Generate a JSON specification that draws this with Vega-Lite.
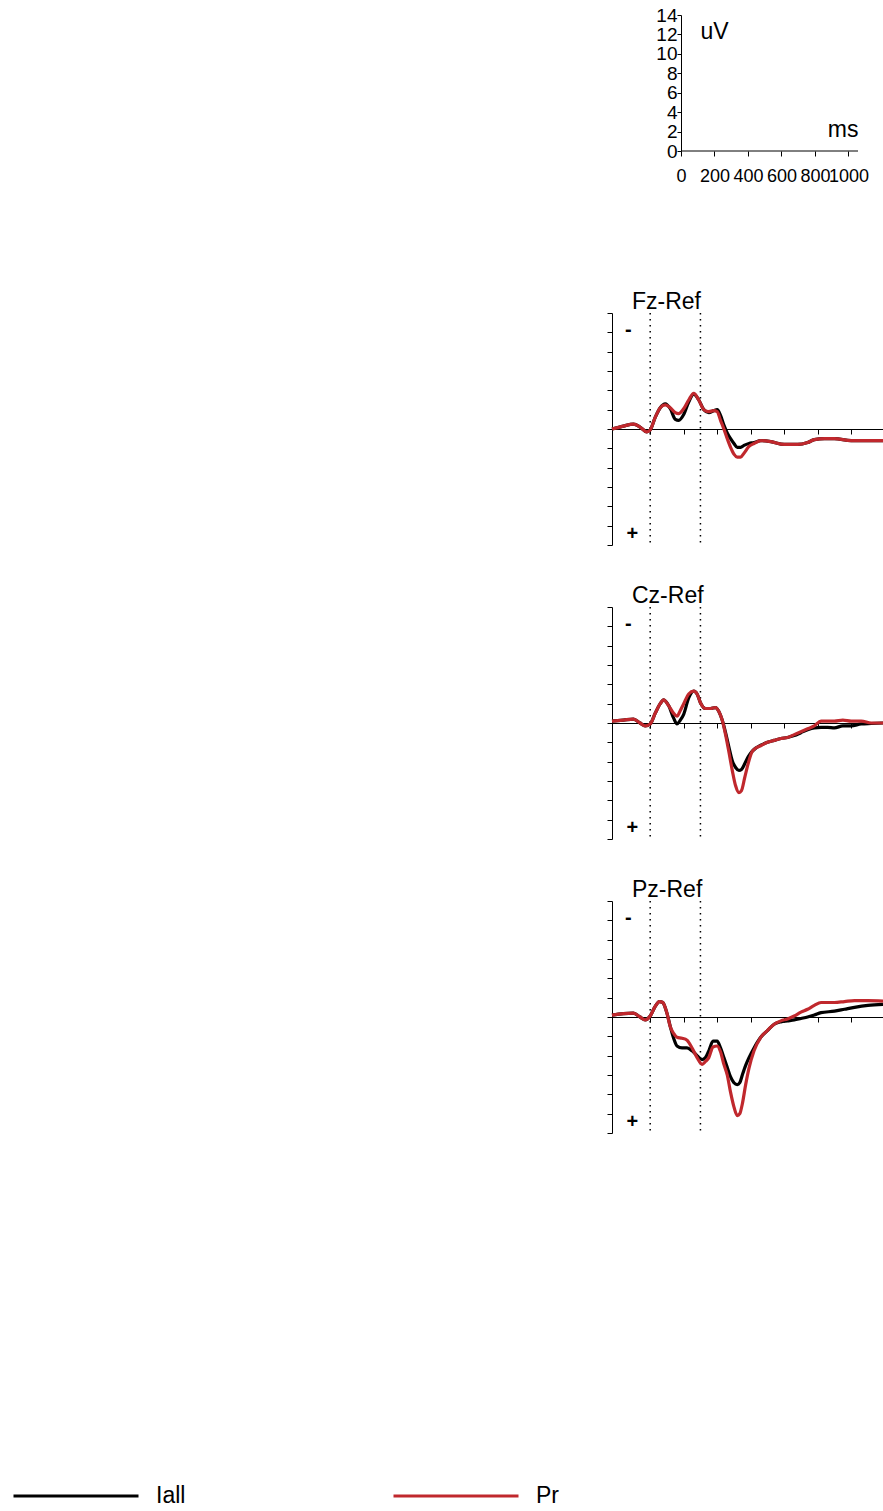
{
  "$schema": "https://vega.github.io/schema/vega-lite/v6.json",
  "background": "white",
  "padding": {"left": 12, "top": 6, "right": 0, "bottom": 0},
  "config": {
    "view": {"stroke": null},
    "font": "Liberation Sans",
    "axis": {"domainColor": "#000", "tickColor": "#000", "labelColor": "#000", "titleColor": "#000", "grid": false,
      "labelFont": "Liberation Sans", "titleFont": "Liberation Sans",
      "labelFontSize": 23, "titleFontSize": 23, "titleFontWeight": "normal", "tickSize": 5, "domainWidth": 1, "tickWidth": 1},
    "title": {"font": "Liberation Sans", "fontSize": 23, "fontWeight": "normal", "color": "#000", "anchor": "start", "frame": "group", "dx": 20, "dy": 6, "offset": 0, "baseline": "alphabetic"}
  },
  "spacing": 62,
  "bounds": "flush",
  "resolve": {"scale": {"x": "independent", "y": "independent", "color": "independent"}, "legend": {"color": "independent"}},
  "datasets": {
    "markers": [{"t": 0}, {"t": 300}],
    "signs": [{"t": -131, "v": -10.2, "label": "-"}, {"t": -107, "v": 10.9, "label": "+"}],
    "erp": [
      {"ch": "Fz", "t": -228, "Iall": 0.0, "Pr": 0.0},
      {"ch": "Fz", "t": -160, "Iall": -0.3, "Pr": -0.3},
      {"ch": "Fz", "t": -100, "Iall": -0.5, "Pr": -0.5},
      {"ch": "Fz", "t": -60, "Iall": -0.2, "Pr": -0.2},
      {"ch": "Fz", "t": -20, "Iall": 0.3, "Pr": 0.3},
      {"ch": "Fz", "t": 0, "Iall": 0.1, "Pr": 0.1},
      {"ch": "Fz", "t": 30, "Iall": -1.2, "Pr": -1.2},
      {"ch": "Fz", "t": 60, "Iall": -2.2, "Pr": -2.2},
      {"ch": "Fz", "t": 90, "Iall": -2.6, "Pr": -2.5},
      {"ch": "Fz", "t": 120, "Iall": -2.1, "Pr": -2.2},
      {"ch": "Fz", "t": 150, "Iall": -1.0, "Pr": -1.7},
      {"ch": "Fz", "t": 170, "Iall": -0.9, "Pr": -1.6},
      {"ch": "Fz", "t": 200, "Iall": -1.5, "Pr": -2.1},
      {"ch": "Fz", "t": 230, "Iall": -2.8, "Pr": -3.0},
      {"ch": "Fz", "t": 260, "Iall": -3.6, "Pr": -3.7},
      {"ch": "Fz", "t": 290, "Iall": -3.0, "Pr": -3.0},
      {"ch": "Fz", "t": 320, "Iall": -2.0, "Pr": -2.0},
      {"ch": "Fz", "t": 350, "Iall": -1.7, "Pr": -1.8},
      {"ch": "Fz", "t": 380, "Iall": -1.9, "Pr": -1.9},
      {"ch": "Fz", "t": 400, "Iall": -2.0, "Pr": -1.8},
      {"ch": "Fz", "t": 420, "Iall": -1.4, "Pr": -0.9},
      {"ch": "Fz", "t": 440, "Iall": -0.4, "Pr": 0.0},
      {"ch": "Fz", "t": 460, "Iall": 0.4, "Pr": 1.0},
      {"ch": "Fz", "t": 480, "Iall": 1.0, "Pr": 1.9},
      {"ch": "Fz", "t": 500, "Iall": 1.5, "Pr": 2.6},
      {"ch": "Fz", "t": 520, "Iall": 1.9, "Pr": 2.9},
      {"ch": "Fz", "t": 540, "Iall": 1.9, "Pr": 2.9},
      {"ch": "Fz", "t": 560, "Iall": 1.7, "Pr": 2.5},
      {"ch": "Fz", "t": 590, "Iall": 1.5, "Pr": 1.8},
      {"ch": "Fz", "t": 620, "Iall": 1.4, "Pr": 1.5},
      {"ch": "Fz", "t": 660, "Iall": 1.2, "Pr": 1.2},
      {"ch": "Fz", "t": 720, "Iall": 1.3, "Pr": 1.3},
      {"ch": "Fz", "t": 800, "Iall": 1.6, "Pr": 1.6},
      {"ch": "Fz", "t": 880, "Iall": 1.6, "Pr": 1.6},
      {"ch": "Fz", "t": 940, "Iall": 1.4, "Pr": 1.4},
      {"ch": "Fz", "t": 980, "Iall": 1.1, "Pr": 1.1},
      {"ch": "Fz", "t": 1040, "Iall": 1.0, "Pr": 1.0},
      {"ch": "Fz", "t": 1100, "Iall": 1.0, "Pr": 1.0},
      {"ch": "Fz", "t": 1200, "Iall": 1.2, "Pr": 1.2},
      {"ch": "Fz", "t": 1300, "Iall": 1.2, "Pr": 1.2},
      {"ch": "Fz", "t": 1390, "Iall": 1.2, "Pr": 1.2},
      {"ch": "Cz", "t": -228, "Iall": -0.2, "Pr": -0.2},
      {"ch": "Cz", "t": -160, "Iall": -0.3, "Pr": -0.3},
      {"ch": "Cz", "t": -100, "Iall": -0.4, "Pr": -0.4},
      {"ch": "Cz", "t": -60, "Iall": 0.0, "Pr": 0.0},
      {"ch": "Cz", "t": -30, "Iall": 0.3, "Pr": 0.3},
      {"ch": "Cz", "t": 0, "Iall": 0.1, "Pr": 0.1},
      {"ch": "Cz", "t": 30, "Iall": -1.0, "Pr": -1.0},
      {"ch": "Cz", "t": 60, "Iall": -2.0, "Pr": -2.0},
      {"ch": "Cz", "t": 80, "Iall": -2.4, "Pr": -2.4},
      {"ch": "Cz", "t": 110, "Iall": -1.8, "Pr": -1.8},
      {"ch": "Cz", "t": 140, "Iall": -0.5, "Pr": -1.0},
      {"ch": "Cz", "t": 160, "Iall": 0.1, "Pr": -0.7},
      {"ch": "Cz", "t": 180, "Iall": -0.3, "Pr": -1.3},
      {"ch": "Cz", "t": 200, "Iall": -0.9, "Pr": -2.0},
      {"ch": "Cz", "t": 230, "Iall": -2.6, "Pr": -3.0},
      {"ch": "Cz", "t": 260, "Iall": -3.3, "Pr": -3.3},
      {"ch": "Cz", "t": 280, "Iall": -3.0, "Pr": -3.0},
      {"ch": "Cz", "t": 300, "Iall": -2.1, "Pr": -2.1},
      {"ch": "Cz", "t": 330, "Iall": -1.5, "Pr": -1.5},
      {"ch": "Cz", "t": 360, "Iall": -1.5, "Pr": -1.5},
      {"ch": "Cz", "t": 390, "Iall": -1.6, "Pr": -1.6},
      {"ch": "Cz", "t": 410, "Iall": -1.2, "Pr": -1.2},
      {"ch": "Cz", "t": 430, "Iall": -0.3, "Pr": -0.3},
      {"ch": "Cz", "t": 450, "Iall": 1.0, "Pr": 1.2},
      {"ch": "Cz", "t": 470, "Iall": 2.5, "Pr": 3.0},
      {"ch": "Cz", "t": 490, "Iall": 3.9, "Pr": 4.9},
      {"ch": "Cz", "t": 510, "Iall": 4.6, "Pr": 6.5},
      {"ch": "Cz", "t": 530, "Iall": 4.9, "Pr": 7.2},
      {"ch": "Cz", "t": 545, "Iall": 4.8, "Pr": 7.0},
      {"ch": "Cz", "t": 565, "Iall": 4.2, "Pr": 5.6},
      {"ch": "Cz", "t": 585, "Iall": 3.5, "Pr": 4.2},
      {"ch": "Cz", "t": 605, "Iall": 3.0, "Pr": 3.1},
      {"ch": "Cz", "t": 630, "Iall": 2.6, "Pr": 2.6},
      {"ch": "Cz", "t": 660, "Iall": 2.3, "Pr": 2.35},
      {"ch": "Cz", "t": 700, "Iall": 2.0, "Pr": 2.0},
      {"ch": "Cz", "t": 740, "Iall": 1.8, "Pr": 1.8},
      {"ch": "Cz", "t": 780, "Iall": 1.6, "Pr": 1.6},
      {"ch": "Cz", "t": 820, "Iall": 1.5, "Pr": 1.5},
      {"ch": "Cz", "t": 860, "Iall": 1.3, "Pr": 1.2},
      {"ch": "Cz", "t": 900, "Iall": 1.0, "Pr": 0.9},
      {"ch": "Cz", "t": 940, "Iall": 0.7, "Pr": 0.6},
      {"ch": "Cz", "t": 980, "Iall": 0.5, "Pr": 0.3},
      {"ch": "Cz", "t": 1020, "Iall": 0.45, "Pr": -0.2},
      {"ch": "Cz", "t": 1060, "Iall": 0.45, "Pr": -0.2},
      {"ch": "Cz", "t": 1100, "Iall": 0.5, "Pr": -0.2},
      {"ch": "Cz", "t": 1150, "Iall": 0.3, "Pr": -0.3},
      {"ch": "Cz", "t": 1200, "Iall": 0.3, "Pr": -0.2},
      {"ch": "Cz", "t": 1260, "Iall": 0.1, "Pr": -0.2},
      {"ch": "Cz", "t": 1320, "Iall": 0.05, "Pr": 0.0},
      {"ch": "Cz", "t": 1390, "Iall": 0.0, "Pr": 0.0},
      {"ch": "Pz", "t": -228, "Iall": -0.2, "Pr": -0.2},
      {"ch": "Pz", "t": -160, "Iall": -0.35, "Pr": -0.35},
      {"ch": "Pz", "t": -100, "Iall": -0.4, "Pr": -0.4},
      {"ch": "Pz", "t": -60, "Iall": 0.0, "Pr": 0.0},
      {"ch": "Pz", "t": -30, "Iall": 0.3, "Pr": 0.3},
      {"ch": "Pz", "t": 0, "Iall": -0.1, "Pr": -0.1},
      {"ch": "Pz", "t": 30, "Iall": -1.1, "Pr": -1.1},
      {"ch": "Pz", "t": 55, "Iall": -1.6, "Pr": -1.6},
      {"ch": "Pz", "t": 75, "Iall": -1.5, "Pr": -1.5},
      {"ch": "Pz", "t": 100, "Iall": -0.4, "Pr": -0.4},
      {"ch": "Pz", "t": 120, "Iall": 1.0, "Pr": 1.0},
      {"ch": "Pz", "t": 140, "Iall": 2.2, "Pr": 1.7},
      {"ch": "Pz", "t": 160, "Iall": 3.0, "Pr": 2.1},
      {"ch": "Pz", "t": 190, "Iall": 3.2, "Pr": 2.2},
      {"ch": "Pz", "t": 220, "Iall": 3.2, "Pr": 2.4},
      {"ch": "Pz", "t": 250, "Iall": 3.5, "Pr": 3.2},
      {"ch": "Pz", "t": 280, "Iall": 4.0, "Pr": 4.2},
      {"ch": "Pz", "t": 310, "Iall": 4.4, "Pr": 4.9},
      {"ch": "Pz", "t": 330, "Iall": 4.2, "Pr": 4.6},
      {"ch": "Pz", "t": 350, "Iall": 3.5, "Pr": 4.2},
      {"ch": "Pz", "t": 375, "Iall": 2.5, "Pr": 3.1},
      {"ch": "Pz", "t": 400, "Iall": 2.5, "Pr": 3.0},
      {"ch": "Pz", "t": 420, "Iall": 3.2, "Pr": 3.6},
      {"ch": "Pz", "t": 440, "Iall": 4.2, "Pr": 4.9},
      {"ch": "Pz", "t": 460, "Iall": 5.2, "Pr": 6.0},
      {"ch": "Pz", "t": 480, "Iall": 6.2, "Pr": 7.8},
      {"ch": "Pz", "t": 500, "Iall": 6.8, "Pr": 9.3},
      {"ch": "Pz", "t": 520, "Iall": 7.0, "Pr": 10.2},
      {"ch": "Pz", "t": 535, "Iall": 6.8, "Pr": 10.0},
      {"ch": "Pz", "t": 550, "Iall": 6.0, "Pr": 9.0},
      {"ch": "Pz", "t": 570, "Iall": 5.0, "Pr": 7.0},
      {"ch": "Pz", "t": 590, "Iall": 4.2, "Pr": 5.3},
      {"ch": "Pz", "t": 620, "Iall": 3.2, "Pr": 3.5},
      {"ch": "Pz", "t": 660, "Iall": 2.1, "Pr": 2.1},
      {"ch": "Pz", "t": 700, "Iall": 1.4, "Pr": 1.4},
      {"ch": "Pz", "t": 740, "Iall": 0.75, "Pr": 0.75},
      {"ch": "Pz", "t": 780, "Iall": 0.5, "Pr": 0.4},
      {"ch": "Pz", "t": 820, "Iall": 0.4, "Pr": 0.2},
      {"ch": "Pz", "t": 860, "Iall": 0.3, "Pr": -0.1},
      {"ch": "Pz", "t": 900, "Iall": 0.15, "Pr": -0.5},
      {"ch": "Pz", "t": 940, "Iall": 0.0, "Pr": -0.8},
      {"ch": "Pz", "t": 980, "Iall": -0.2, "Pr": -1.2},
      {"ch": "Pz", "t": 1020, "Iall": -0.45, "Pr": -1.5},
      {"ch": "Pz", "t": 1100, "Iall": -0.6, "Pr": -1.5},
      {"ch": "Pz", "t": 1160, "Iall": -0.8, "Pr": -1.6},
      {"ch": "Pz", "t": 1220, "Iall": -1.0, "Pr": -1.7},
      {"ch": "Pz", "t": 1300, "Iall": -1.2, "Pr": -1.7},
      {"ch": "Pz", "t": 1390, "Iall": -1.3, "Pr": -1.65}
    ]
  },
  "vconcat": [
    {
      "width": 246, "height": 136,
      "data": {"values": [{"t": 0, "t2": 1057, "v": 0}]},
      "mark": {"type": "rule", "color": "#000", "strokeWidth": 1},
      "encoding": {
        "x": {"field": "t", "type": "quantitative", "scale": {"domain": [-412, 1057], "nice": false, "zero": false},
          "axis": {"domain": false, "values": [0, 200, 400, 600, 800, 1000], "format": "d", "labelOverlap": false, "labelFlush": false, "labelPadding": 11, "labelFontSize": 18,
            "title": "ms", "titleX": 246, "titleY": -15, "titleAlign": "right", "titleBaseline": "alphabetic"}},
        "x2": {"field": "t2"},
        "y": {"field": "v", "type": "quantitative", "scale": {"domain": [0, 14], "nice": false},
          "axis": {"offset": -69, "values": [0, 2, 4, 6, 8, 10, 12, 14], "format": "d", "labelOverlap": false, "labelFlush": false, "labelPadding": 0, "tickSize": 4, "labelFontSize": 19,
            "title": "uV", "titleAngle": 0, "titleX": 19, "titleY": 5, "titleAlign": "left", "titleBaseline": "top"}}
      }
    },
    {
      "width": 1, "height": 38,
      "data": {"values": [{"a": 1}]},
      "mark": {"type": "point", "opacity": 0}
    },
    {
      "width": 271, "height": 232,
      "title": "Fz-Ref",
      "layer": [
        {"data": {"name": "markers"}, "mark": {"type": "rule", "strokeDash": [1.5, 4.5], "strokeWidth": 1.5, "color": "#000"},
          "encoding": {"x": {"field": "t", "type": "quantitative", "scale": {"domain": [-228, 1390], "nice": false, "zero": false},
            "axis": {"orient": "bottom", "offset": -116, "values": [0, 200, 400, 600, 800, 1000, 1200], "labels": false, "title": null}}}},
        {"data": {"name": "erp"}, "transform": [{"filter": "datum.ch === 'Fz'"}, {"fold": ["Iall", "Pr"], "as": ["s", "v"]}],
          "mark": {"type": "line", "strokeWidth": 3.2, "interpolate": "monotone"},
          "encoding": {"x": {"field": "t", "type": "quantitative"},
            "y": {"field": "v", "type": "quantitative", "scale": {"domain": [-12, 12], "reverse": true, "nice": false},
              "axis": {"values": [-12, -10, -8, -6, -4, -2, 0, 2, 4, 6, 8, 10, 12], "labels": false, "title": null, "labelOverlap": false}},
            "color": {"field": "s", "type": "nominal", "scale": {"domain": ["Iall", "Pr"], "range": ["#000000", "#c0282d"]}, "legend": null}}},
        {"data": {"name": "signs"}, "mark": {"type": "text", "fontSize": 20, "fontWeight": "bold"},
          "encoding": {"x": {"field": "t", "type": "quantitative"},
            "y": {"field": "v", "type": "quantitative", "axis": {"values": [-12, -10, -8, -6, -4, -2, 0, 2, 4, 6, 8, 10, 12], "labels": false, "title": null, "labelOverlap": false}},
            "text": {"field": "label"}}}
      ]
    },
    {
      "width": 271, "height": 232,
      "title": "Cz-Ref",
      "layer": [
        {"data": {"name": "markers"}, "mark": {"type": "rule", "strokeDash": [1.5, 4.5], "strokeWidth": 1.5, "color": "#000"},
          "encoding": {"x": {"field": "t", "type": "quantitative", "scale": {"domain": [-228, 1390], "nice": false, "zero": false},
            "axis": {"orient": "bottom", "offset": -116, "values": [0, 200, 400, 600, 800, 1000, 1200], "labels": false, "title": null}}}},
        {"data": {"name": "erp"}, "transform": [{"filter": "datum.ch === 'Cz'"}, {"fold": ["Iall", "Pr"], "as": ["s", "v"]}],
          "mark": {"type": "line", "strokeWidth": 3.2, "interpolate": "monotone"},
          "encoding": {"x": {"field": "t", "type": "quantitative"},
            "y": {"field": "v", "type": "quantitative", "scale": {"domain": [-12, 12], "reverse": true, "nice": false},
              "axis": {"values": [-12, -10, -8, -6, -4, -2, 0, 2, 4, 6, 8, 10, 12], "labels": false, "title": null, "labelOverlap": false}},
            "color": {"field": "s", "type": "nominal", "scale": {"domain": ["Iall", "Pr"], "range": ["#000000", "#c0282d"]}, "legend": null}}},
        {"data": {"name": "signs"}, "mark": {"type": "text", "fontSize": 20, "fontWeight": "bold"},
          "encoding": {"x": {"field": "t", "type": "quantitative"},
            "y": {"field": "v", "type": "quantitative", "axis": {"values": [-12, -10, -8, -6, -4, -2, 0, 2, 4, 6, 8, 10, 12], "labels": false, "title": null, "labelOverlap": false}},
            "text": {"field": "label"}}}
      ]
    },
    {
      "width": 271, "height": 232,
      "title": "Pz-Ref",
      "layer": [
        {"data": {"name": "markers"}, "mark": {"type": "rule", "strokeDash": [1.5, 4.5], "strokeWidth": 1.5, "color": "#000"},
          "encoding": {"x": {"field": "t", "type": "quantitative", "scale": {"domain": [-228, 1390], "nice": false, "zero": false},
            "axis": {"orient": "bottom", "offset": -116, "values": [0, 200, 400, 600, 800, 1000, 1200], "labels": false, "title": null}}}},
        {"data": {"name": "erp"}, "transform": [{"filter": "datum.ch === 'Pz'"}, {"fold": ["Iall", "Pr"], "as": ["s", "v"]}],
          "mark": {"type": "line", "strokeWidth": 3.2, "interpolate": "monotone"},
          "encoding": {"x": {"field": "t", "type": "quantitative"},
            "y": {"field": "v", "type": "quantitative", "scale": {"domain": [-12, 12], "reverse": true, "nice": false},
              "axis": {"values": [-12, -10, -8, -6, -4, -2, 0, 2, 4, 6, 8, 10, 12], "labels": false, "title": null, "labelOverlap": false}},
            "color": {"field": "s", "type": "nominal", "scale": {"domain": ["Iall", "Pr"], "range": ["#000000", "#c0282d"]},
              "legend": {"orient": "none", "legendX": -600, "legendY": 531, "direction": "horizontal", "title": null,
                "symbolType": "stroke", "symbolSize": 15625, "symbolStrokeWidth": 3, "labelFontSize": 23,
                "labelFont": "Liberation Sans", "labelColor": "#000",
                "labelOffset": 16, "columnPadding": 201, "padding": 0}}}},
        {"data": {"name": "signs"}, "mark": {"type": "text", "fontSize": 20, "fontWeight": "bold"},
          "encoding": {"x": {"field": "t", "type": "quantitative"},
            "y": {"field": "v", "type": "quantitative", "axis": {"values": [-12, -10, -8, -6, -4, -2, 0, 2, 4, 6, 8, 10, 12], "labels": false, "title": null, "labelOverlap": false}},
            "text": {"field": "label"}}}
      ]
    }
  ]
}
